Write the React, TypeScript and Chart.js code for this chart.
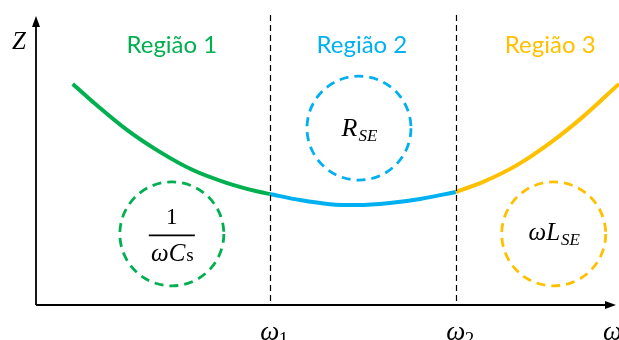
import React, { useEffect, useRef } from "react";
import { Chart, registerables } from "chart.js";

Chart.register(...registerables);

// Impedance curve Z(ω) of the series circuit, split into three regions
const region1: [number, number][] = [
  [0.63, 7.65], [0.98, 7.02], [1.56, 6.06], [2.13, 5.29], [2.69, 4.67],
  [3.28, 4.22], [3.84, 3.91], [4.01, 3.84],
];
const region2: [number, number][] = [
  [4.01, 3.84], [4.53, 3.63], [5.04, 3.49], [5.51, 3.46], [6.07, 3.53],
  [6.59, 3.67], [7.2, 3.91],
];
const region3: [number, number][] = [
  [7.2, 3.91], [7.67, 4.26], [8.25, 4.84], [8.82, 5.61], [9.38, 6.51], [10.0, 7.65],
];

const omegaMarks = [4.01, 7.2];
const regionNames = ["Região 1", "Região 2", "Região 3"];
const regionLabelX = [2.33, 5.59, 8.82];
const regionLabelZ = 9.0;
const regionColors = ["#00b050", "#00b0f0", "#ffc000"];
// circle centres (ω, Z) for the dominant term of each region
const circleCenters: [number, number][] = [
  [2.33, 2.46],
  [5.54, 6.12],
  [8.88, 2.46],
];

const MATH = "'Liberation Serif', serif";
const TEXT = "Lato, 'Noto Sans', sans-serif";

const overlay = {
  id: "overlay",
  afterDatasetsDraw(chart: any) {
    const { ctx, chartArea, scales } = chart;
    const xs = scales.x;
    const ys = scales.y;
    const left = chartArea.left;
    const bottom = chartArea.bottom;
    ctx.save();

    // dashed ω1 / ω2 markers
    ctx.strokeStyle = "#000";
    ctx.lineWidth = 1.2;
    ctx.setLineDash([6, 4]);
    omegaMarks.forEach((w) => {
      const px = Math.round(xs.getPixelForValue(w)) + 0.5;
      ctx.beginPath();
      ctx.moveTo(px, chartArea.top - 1);
      ctx.lineTo(px, bottom);
      ctx.stroke();
    });
    ctx.setLineDash([]);

    // axes with arrow heads
    ctx.strokeStyle = "#000";
    ctx.fillStyle = "#000";
    ctx.lineWidth = 1.8;
    ctx.beginPath();
    ctx.moveTo(left, bottom);
    ctx.lineTo(left, chartArea.top + 8);
    ctx.moveTo(left, bottom);
    ctx.lineTo(chartArea.right - 8, bottom);
    ctx.stroke();
    ctx.beginPath();
    ctx.moveTo(left, chartArea.top);
    ctx.lineTo(left - 4, chartArea.top + 11);
    ctx.lineTo(left + 4, chartArea.top + 11);
    ctx.closePath();
    ctx.fill();
    ctx.beginPath();
    ctx.moveTo(chartArea.right - 3, bottom);
    ctx.lineTo(chartArea.right - 14, bottom - 4);
    ctx.lineTo(chartArea.right - 14, bottom + 4);
    ctx.closePath();
    ctx.fill();

    // dashed circles
    ctx.lineWidth = 2.8;
    ctx.setLineDash([9, 6]);
    circleCenters.forEach(([w, z], i) => {
      ctx.strokeStyle = regionColors[i];
      ctx.beginPath();
      ctx.arc(xs.getPixelForValue(w), ys.getPixelForValue(z), 52, 0, Math.PI * 2);
      ctx.stroke();
    });
    ctx.setLineDash([]);

    // region titles
    ctx.font = `24px ${TEXT}`;
    ctx.textAlign = "center";
    ctx.textBaseline = "middle";
    regionNames.forEach((name, i) => {
      ctx.fillStyle = regionColors[i];
      ctx.fillText(name, xs.getPixelForValue(regionLabelX[i]), ys.getPixelForValue(regionLabelZ));
    });

    ctx.fillStyle = "#000";
    ctx.textBaseline = "alphabetic";

    // Z axis title
    ctx.font = `italic 25px ${MATH}`;
    ctx.textAlign = "center";
    ctx.fillText("Z", left - 17, chartArea.top + 33);

    // text with a subscript, centred on cx
    const drawSub = (main: string, sub: string, subItalic: boolean, cx: number, base: number, size: number, subSize: number, drop: number) => {
      const subFont = `${subItalic ? "italic " : ""}${subSize}px ${MATH}`;
      ctx.font = `italic ${size}px ${MATH}`;
      const mw = ctx.measureText(main).width;
      ctx.font = subFont;
      const sw = ctx.measureText(sub).width;
      const x0 = cx - (mw + sw) / 2;
      ctx.textAlign = "left";
      ctx.font = `italic ${size}px ${MATH}`;
      ctx.fillText(main, x0, base);
      ctx.font = subFont;
      ctx.fillText(sub, x0 + mw + 1, base + drop);
    };

    // ω tick labels
    omegaMarks.forEach((w, i) => {
      const px = xs.getPixelForValue(w);
      ctx.font = `italic 27px ${MATH}`;
      ctx.textAlign = "center";
      ctx.fillText("ω", px, bottom + 35);
      ctx.font = `19px ${MATH}`;
      ctx.textAlign = "left";
      ctx.fillText(String(i + 1), px + 9, bottom + 40);
    });
    ctx.font = `italic 27px ${MATH}`;
    ctx.textAlign = "left";
    ctx.fillText("ω", chartArea.right - 16, bottom + 35);

    // 1 / (ωCs)
    const g = circleCenters[0];
    const gx = xs.getPixelForValue(g[0]);
    const gy = ys.getPixelForValue(g[1]);
    ctx.font = `23px ${MATH}`;
    ctx.textAlign = "center";
    ctx.fillText("1", gx, gy - 10);
    ctx.lineWidth = 1.8;
    ctx.strokeStyle = "#000";
    ctx.beginPath();
    ctx.moveTo(gx - 23, gy + 1.5);
    ctx.lineTo(gx + 23, gy + 1.5);
    ctx.stroke();
    drawSub("ωC", "s", false, gx, gy + 27, 25, 19, 0);

    // R_SE
    const b = circleCenters[1];
    drawSub("R", "SE", true, xs.getPixelForValue(b[0]), ys.getPixelForValue(b[1]) + 8, 26, 17, 5);

    // ωL_SE
    const y3 = circleCenters[2];
    drawSub("ωL", "SE", true, xs.getPixelForValue(y3[0]), ys.getPixelForValue(y3[1]) + 6, 25, 17, 5);

    ctx.restore();
  },
};

export default function App() {
  const ref = useRef<HTMLCanvasElement>(null);

  useEffect(() => {
    document.body.style.margin = "0";
    const toPts = (arr: [number, number][]) => arr.map(([x, y]) => ({ x, y }));
    const ds = (arr: [number, number][], color: string) => ({
      data: toPts(arr),
      borderColor: color,
      borderWidth: 4,
      pointRadius: 0,
      showLine: true,
      fill: false,
      cubicInterpolationMode: "monotone" as const,
    });
    const chart = new Chart(ref.current!, {
      type: "scatter",
      data: {
        datasets: [
          ds(region1, regionColors[0]),
          ds(region2, regionColors[1]),
          ds(region3, regionColors[2]),
        ],
      },
      options: {
        animation: false,
        responsive: false,
        maintainAspectRatio: false,
        layout: { padding: { left: 36, right: 0, top: 16, bottom: 35 } },
        scales: {
          x: { type: "linear", min: 0, max: 10, display: false },
          y: { type: "linear", min: 0, max: 10, display: false },
        },
        plugins: { legend: { display: false }, tooltip: { enabled: false } },
      },
      plugins: [overlay],
    });
    return () => chart.destroy();
  }, []);

  return (
    <div style={{ width: 619, height: 340, background: "#fff" }}>
      <canvas ref={ref} width={619} height={340} style={{ display: "block" }} />
    </div>
  );
}
